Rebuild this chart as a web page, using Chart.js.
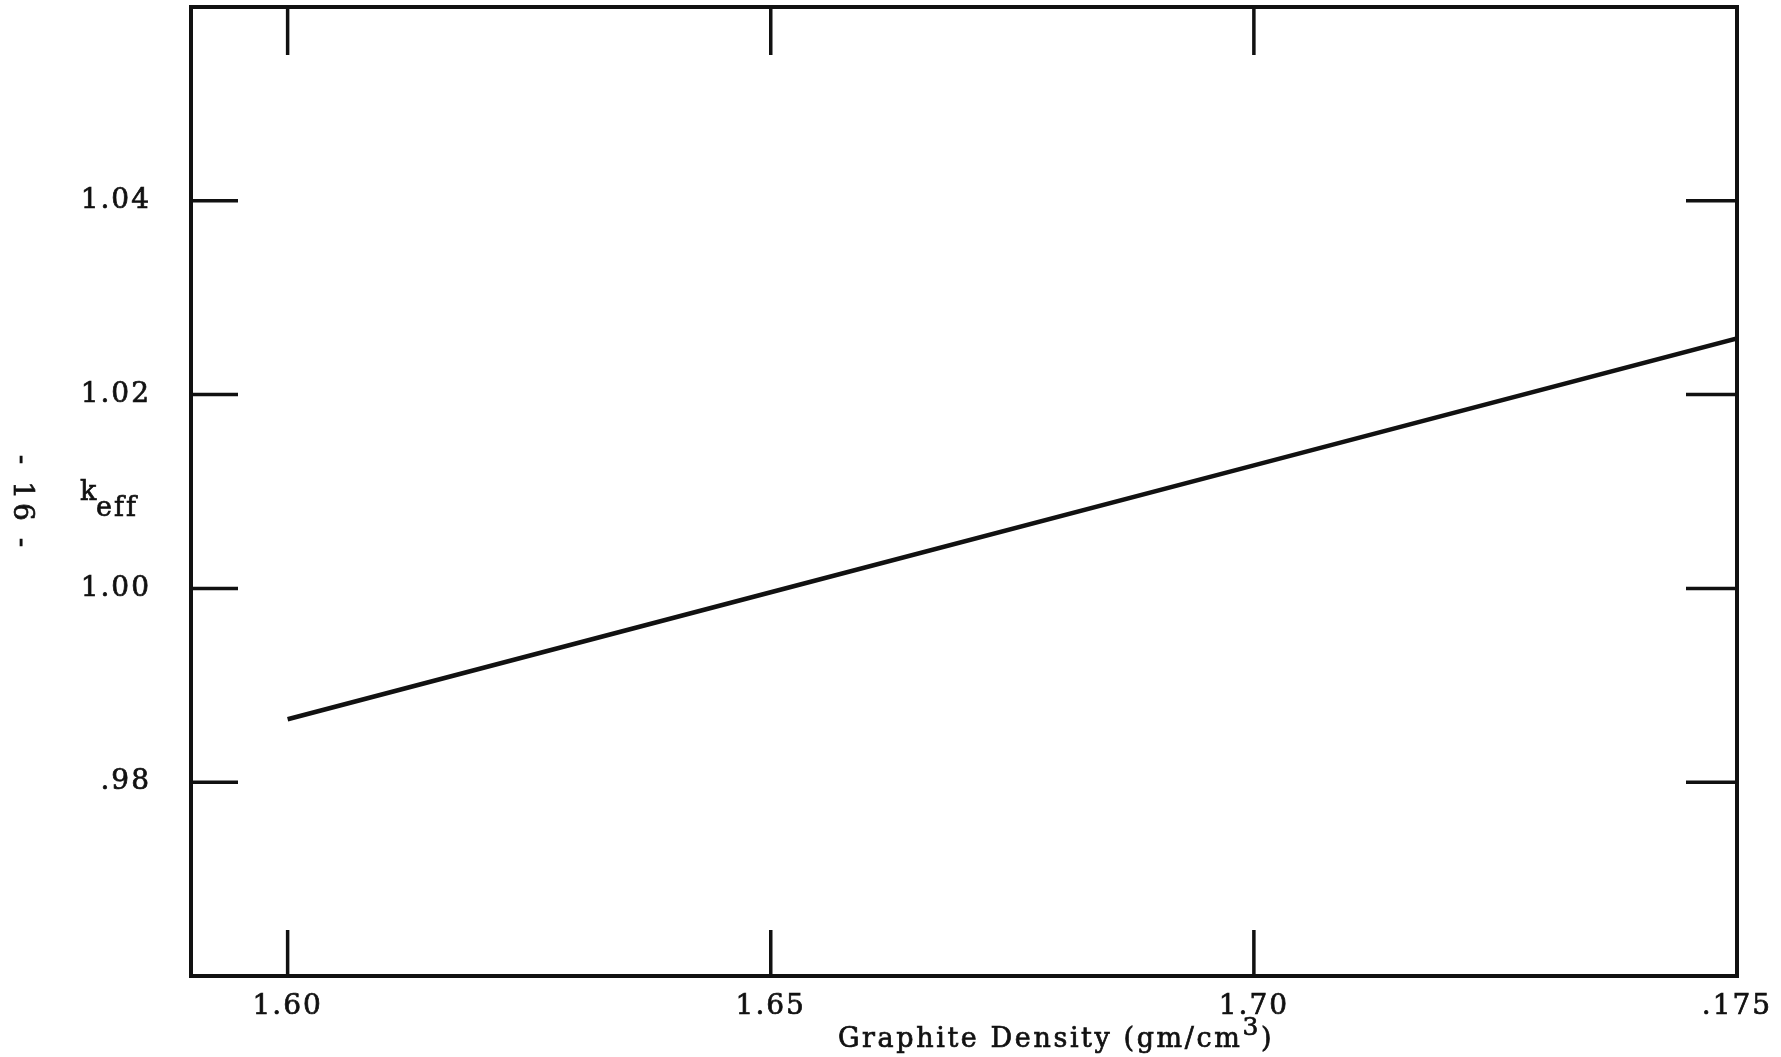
<!DOCTYPE html>
<html>
<head>
<meta charset="utf-8">
<title>keff vs Graphite Density</title>
<script src="https://cdn.jsdelivr.net/npm/chart.js@4.4.0/dist/chart.umd.min.js"></script>
<style>
  html, body { margin: 0; padding: 0; background: #fff; }
  #wrap { width: 1781px; height: 1057px; }
</style>
</head>
<body>
<div id="wrap"><canvas id="chart" width="1781" height="1057"></canvas></div>
<script>
// Werte (gerade Linie)
const densities = [1.60, 1.65, 1.70, 1.75];
const keffValues = [0.9865, 0.9996, 1.0127, 1.0258];

// Achsenbeschriftung wie im Original (".175" steht so im Bild)
const xTickValues = [1.60, 1.65, 1.70, 1.75];
const xTickLabels = ['1.60', '1.65', '1.70', '.175'];
const yTickValues = [0.98, 1.00, 1.02, 1.04];
const yTickLabels = ['.98', '1.00', '1.02', '1.04'];

const xTitle = 'Graphite Density (gm/cm';
const xTitleSup = '3';
const yTitleMain = 'k';
const yTitleSub = 'eff';
const pageMark = '- 16 -';

const FONT = '"DejaVu Serif", "Liberation Serif", serif';
const INK = '#111';
const SPACING = '2px';

function labelFor(values, labels, v) {
    const i = values.findIndex(t => Math.abs(t - v) < 1e-9);
    return i >= 0 ? labels[i] : '';
}

function inkText(ctx, text, x, y) {
    ctx.fillText(text, x, y);
    ctx.strokeText(text, x, y);
}

// Rahmen, Innen-Ticks und freie Texte
const framePlugin = {
    id: 'frame',
    beforeDraw(chart) {
        chart.ctx.letterSpacing = SPACING;
    },
    afterDraw(chart) {
        const { ctx, chartArea: a, scales } = chart;
        ctx.save();
        ctx.strokeStyle = INK;
        ctx.lineCap = 'butt';

        // Ticks nach innen
        ctx.lineWidth = 3.5;
        xTickValues.forEach(v => {
            const px = scales.x.getPixelForValue(v);
            if (px >= a.right - 2) return;
            ctx.beginPath();
            ctx.moveTo(px, a.bottom); ctx.lineTo(px, a.bottom - 46);
            ctx.moveTo(px, a.top); ctx.lineTo(px, a.top + 48);
            ctx.stroke();
        });
        yTickValues.forEach(v => {
            const py = scales.y.getPixelForValue(v);
            ctx.beginPath();
            ctx.moveTo(a.left, py); ctx.lineTo(a.left + 47, py);
            ctx.moveTo(a.right, py); ctx.lineTo(a.right - 51, py);
            ctx.stroke();
        });

        // Rahmen
        ctx.lineWidth = 4;
        ctx.strokeRect(a.left, a.top, a.right - a.left, a.bottom - a.top);

        ctx.fillStyle = INK;
        ctx.lineWidth = 0.7;
        ctx.textBaseline = 'alphabetic';
        ctx.textAlign = 'left';

        // x-Achsentitel, etwas rechts der Mitte wie im Original
        ctx.letterSpacing = '2.6px';
        ctx.font = '27px ' + FONT;
        const mainW = ctx.measureText(xTitle).width;
        const closeW = ctx.measureText(')').width;
        ctx.font = '25px ' + FONT;
        const supW = ctx.measureText(xTitleSup).width;
        const cx = (a.left + a.right) / 2 + 92;
        let tx = cx - (mainW + supW + closeW) / 2;
        ctx.font = '27px ' + FONT;
        inkText(ctx, xTitle, tx, 1047);
        tx += mainW;
        ctx.font = '25px ' + FONT;
        inkText(ctx, xTitleSup, tx, 1035);
        tx += supW;
        ctx.font = '27px ' + FONT;
        inkText(ctx, ')', tx, 1047);

        // y-Achsentitel k_eff
        ctx.letterSpacing = SPACING;
        ctx.font = '27px ' + FONT;
        inkText(ctx, yTitleMain, a.left - 111, 500);
        inkText(ctx, yTitleSub, a.left - 95, 516);

        // Seitenzahl, gedreht
        ctx.translate(21, 503);
        ctx.rotate(Math.PI / 2);
        ctx.textAlign = 'center';
        ctx.textBaseline = 'middle';
        ctx.font = '28px ' + FONT;
        ctx.letterSpacing = '4px';
        inkText(ctx, pageMark, 0, 0);
        ctx.restore();
    }
};

const tickFont = { family: FONT, size: 28 };

const ctx = document.getElementById('chart').getContext('2d');
new Chart(ctx, {
    type: 'line',
    data: {
        datasets: [{
            data: densities.map((d, i) => ({ x: d, y: keffValues[i] })),
            borderColor: INK,
            borderWidth: 4.5,
            pointRadius: 0,
            fill: false,
            tension: 0
        }]
    },
    options: {
        responsive: false,
        animation: false,
        devicePixelRatio: 1,
        layout: { padding: { top: 7, right: 44, left: 0, bottom: 0 } },
        plugins: {
            legend: { display: false },
            tooltip: { enabled: false },
            title: { display: false }
        },
        scales: {
            x: {
                type: 'linear',
                min: 1.59,
                max: 1.75,
                afterBuildTicks: s => { s.ticks = xTickValues.map(v => ({ value: v })); },
                afterFit: s => {
                    s.height = 81;
                    s.paddingLeft = 0; s.paddingRight = 0;
                    s.paddingTop = 0; s.paddingBottom = 0;
                },
                grid: { display: false },
                border: { display: false },
                ticks: {
                    autoSkip: false,
                    maxRotation: 0,
                    padding: 6,
                    color: INK,
                    textStrokeColor: INK,
                    textStrokeWidth: 0.7,
                    font: tickFont,
                    callback: v => labelFor(xTickValues, xTickLabels, v)
                }
            },
            y: {
                min: 0.96,
                max: 1.06,
                afterBuildTicks: s => { s.ticks = yTickValues.map(v => ({ value: v })); },
                afterFit: s => {
                    s.width = 191;
                    s.paddingLeft = 0; s.paddingRight = 0;
                    s.paddingTop = 0; s.paddingBottom = 0;
                },
                grid: { display: false },
                border: { display: false },
                ticks: {
                    autoSkip: false,
                    padding: 32,
                    color: INK,
                    textStrokeColor: INK,
                    textStrokeWidth: 0.7,
                    font: tickFont,
                    callback: v => labelFor(yTickValues, yTickLabels, v)
                }
            }
        }
    },
    plugins: [framePlugin]
});
</script>
</body>
</html>
